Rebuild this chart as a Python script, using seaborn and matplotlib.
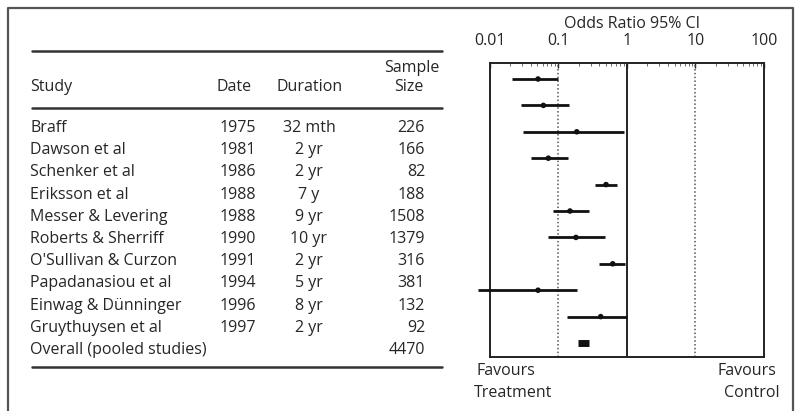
import matplotlib
matplotlib.use("Agg")
import matplotlib.pyplot as plt
from matplotlib.ticker import LogLocator, NullFormatter, FixedLocator, FixedFormatter
import seaborn as sns
import pandas as pd
import numpy as np

# ---- data -------------------------------------------------------------
studies = ["Braff", "Dawson et al", "Schenker et al", "Eriksson et al",
           "Messer & Levering", "Roberts & Sherriff", "O'Sullivan & Curzon",
           "Papadanasiou et al", "Einwag & Dünninger", "Gruythuysen et al",
           "Overall (pooled studies)"]
dates = ["1975", "1981", "1986", "1988", "1988", "1990", "1991", "1994",
         "1996", "1997", ""]
durations = ["32 mth", "2 yr", "2 yr", "7 y", "9 yr", "10 yr", "2 yr",
             "5 yr", "8 yr", "2 yr", ""]
sample_sizes = ["226", "166", "82", "188", "1508", "1379", "316", "381",
                "132", "92", "4470"]

odds_ratio = [0.051, 0.061, 0.187, 0.072, 0.50, 0.149, 0.182, 0.625, 0.051, 0.418, 0.237]
ci_low = [0.021, 0.029, 0.031, 0.040, 0.345, 0.085, 0.072, 0.40, 0.0068, 0.136, 0.197]
ci_high = [0.10, 0.146, 0.91, 0.141, 0.714, 0.285, 0.483, 0.94, 0.187, 1.0, 0.285]

tick_values = [0.01, 0.1, 1, 10, 100]
tick_labels = ["0.01", "0.1", "1", "10", "100"]

df = pd.DataFrame({"study": studies, "or": odds_ratio,
                   "lo": ci_low, "hi": ci_high})
df["row"] = np.arange(len(df))
df["pooled"] = df["study"].str.startswith("Overall")

# ---- style --------------------------------------------------------------
sns.set_theme(style="white")
plt.rcParams["font.family"] = ["Open Sans", "DejaVu Sans"]
TXT = "#262626"
FS = 11.5

W, H = 795, 411
fig = plt.figure(figsize=(W / 100, H / 100), dpi=100)
fig.patch.set_facecolor("white")

# full-figure canvas in pixel units for the table and frame
bg = fig.add_axes([0, 0, 1, 1])
bg.set_xlim(0, W)
bg.set_ylim(H, 0)
bg.axis("off")

# outer frame (top, left, right)
bg.plot([8, 8, 793, 793], [H + 5, 8, 8, H + 5], color="#555555", lw=1.6,
        clip_on=False)

# table rules
for y in (51, 108, 367):
    bg.plot([32, 442], [y, y], color="#333333", lw=1.8)

# header
bg.text(30, 87, "Study", fontsize=FS, color=TXT, va="center", ha="left")
bg.text(217, 87, "Date", fontsize=FS, color=TXT, va="center", ha="left")
bg.text(310, 87, "Duration", fontsize=FS, color=TXT, va="center", ha="center")
bg.text(412, 68, "Sample", fontsize=FS, color=TXT, va="center", ha="center")
bg.text(409, 87, "Size", fontsize=FS, color=TXT, va="center", ha="center")

# table rows
row_y0, row_dy = 128, 22.2
for i in range(len(studies)):
    y = row_y0 + row_dy * i
    bg.text(30, y, studies[i], fontsize=FS, color=TXT, va="center", ha="left")
    bg.text(220, y, dates[i], fontsize=FS, color=TXT, va="center", ha="left")
    bg.text(309, y, durations[i], fontsize=FS, color=TXT, va="center", ha="center")
    bg.text(425, y, sample_sizes[i], fontsize=FS, color=TXT, va="center", ha="right")

# favours labels under the forest plot
bg.text(476, 371, "Favours", fontsize=FS, color=TXT, va="center", ha="left")
bg.text(474, 393, "Treatment", fontsize=FS, color=TXT, va="center", ha="left")
bg.text(776, 371, "Favours", fontsize=FS, color=TXT, va="center", ha="right")
bg.text(780, 393, "Control", fontsize=FS, color=TXT, va="center", ha="right")

# ---- forest plot ---------------------------------------------------------
left, right, top, bottom = 489.5, 763.9, 63, 357
ax = fig.add_axes([left / W, (H - bottom) / H, (right - left) / W, (bottom - top) / H])
ax.set_facecolor("none")
ax.set_xscale("log")
ax.set_xlim(0.01, 100)
ax.set_ylim(10.53, -0.606)

# reference lines
ax.axvline(1, color="#222222", lw=1.4, zorder=1)
for v in (0.1, 10):
    ax.axvline(v, color="#555555", lw=1.1, ls=(0, (1, 1.5)), zorder=1)

studies_df = df[~df["pooled"]]
pooled_df = df[df["pooled"]]

ax.hlines(studies_df["row"], studies_df["lo"], studies_df["hi"],
          color="#111111", lw=2.0, zorder=3, clip_on=False)
sns.scatterplot(data=studies_df, x="or", y="row", ax=ax, color="#111111",
                s=16, marker="o", edgecolor="none", zorder=4, legend=False)

# pooled estimate as a thick bar spanning its interval
ax.hlines(pooled_df["row"], pooled_df["lo"], pooled_df["hi"],
          color="#111111", lw=5.0, capstyle="butt", zorder=4)

ax.set_xlabel("")
ax.set_ylabel("")
ax.set_yticks([])
for side in ("left", "right", "top", "bottom"):
    ax.spines[side].set_visible(True)
    ax.spines[side].set_color("#222222")
    ax.spines[side].set_linewidth(1.4)

ax.xaxis.set_ticks_position("top")
ax.xaxis.set_label_position("top")
ax.xaxis.set_major_locator(FixedLocator(tick_values))
ax.xaxis.set_major_formatter(FixedFormatter(tick_labels))
ax.xaxis.set_minor_locator(LogLocator(base=10, subs=np.arange(2, 10)))
ax.xaxis.set_minor_formatter(NullFormatter())
ax.tick_params(axis="x", which="major", direction="in", length=3.5, width=1,
               colors="#222222", labelsize=FS, labelcolor=TXT, pad=10,
               top=True, bottom=False)
ax.tick_params(axis="x", which="minor", direction="in", length=2, width=0.6,
               colors="#555555", top=True, bottom=False)

fig.text(632 / W, 1 - 24 / H, "Odds Ratio 95% CI", fontsize=FS, color=TXT,
         ha="center", va="center")

fig.savefig("out.png", dpi=100, facecolor="white")
